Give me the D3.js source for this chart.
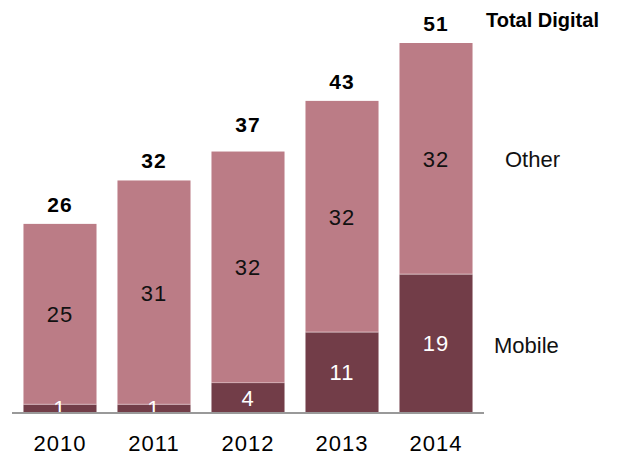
<!DOCTYPE html>
<html><head><meta charset="utf-8">
<script src="https://cdn.jsdelivr.net/npm/d3@7"></script>
<style>body{margin:0;background:#fff}svg{display:block}text{font-family:"Liberation Sans",Arial,sans-serif}</style>
</head><body>
<svg id="c" width="617" height="455"></svg>
<script>
const years = ["2010","2011","2012","2013","2014"];
const mobile = [1, 1, 4, 11, 19];
const other = [25, 31, 32, 32, 32];
const totals = [26, 32, 37, 43, 51];
const seriesNames = ["Other", "Mobile"];
const totalLabel = "Total Digital";

const svg = d3.select("#c");
const colOther = "#bb7c86", colMobile = "#723d48";
const x = d3.scaleBand().domain(years).range([12, 484]).paddingInner(0.223).paddingOuter(0.122);
const y = d3.scaleLinear().domain([0, 51]).range([412, 43]);

const data = years.map((yr, i) => ({yr, m: mobile[i], o: other[i], t: totals[i]}));

// other segments
svg.selectAll("rect.o").data(data).join("rect")
  .attr("x", d => x(d.yr)).attr("width", x.bandwidth())
  .attr("y", d => y(d.m + d.o)).attr("height", d => y(d.m) - y(d.m + d.o))
  .attr("fill", colOther);
// mobile segments
svg.selectAll("rect.m").data(data).join("rect")
  .attr("x", d => x(d.yr)).attr("width", x.bandwidth())
  .attr("y", d => y(d.m)).attr("height", d => y(0) - y(d.m))
  .attr("fill", colMobile);
// separator
svg.selectAll("line.sep").data(data).join("line")
  .attr("x1", d => x(d.yr)).attr("x2", d => x(d.yr) + x.bandwidth())
  .attr("y1", d => y(d.m) - 0.5).attr("y2", d => y(d.m) - 0.5)
  .attr("stroke", "rgba(255,255,255,0.35)").attr("stroke-width", 1);

// inner labels
svg.selectAll("text.o").data(data).join("text")
  .attr("x", d => x(d.yr) + x.bandwidth()/2)
  .attr("y", d => (y(d.m) + y(d.m + d.o))/2 + 8)
  .attr("text-anchor", "middle").attr("font-size", 22).attr("letter-spacing", 1)
  .attr("fill", "#111").text(d => d.o);
svg.selectAll("text.m").data(data).join("text")
  .attr("x", d => x(d.yr) + x.bandwidth()/2)
  .attr("y", d => (y(0) + y(d.m))/2 + 8)
  .attr("text-anchor", "middle").attr("font-size", 22).attr("letter-spacing", 1)
  .attr("fill", "#fff").text(d => d.m);

// totals
svg.selectAll("text.t").data(data).join("text")
  .attr("x", d => x(d.yr) + x.bandwidth()/2)
  .attr("y", d => y(d.t) - 12)
  .attr("text-anchor", "middle").attr("font-size", 21).attr("font-weight", "bold").attr("letter-spacing", 1)
  .attr("fill", "#000").text(d => d.t);

// axis
const axis = svg.append("g").attr("transform", "translate(0,413)")
  .call(d3.axisBottom(x).tickSize(0).tickPadding(30));
axis.select(".domain").attr("stroke", "#999").attr("stroke-width", 2).attr("d", "M12,0H484");
axis.selectAll(".tick text").attr("font-size", 22).attr("letter-spacing", 1)
  .attr("fill", "#000").attr("font-family", "Liberation Sans, Arial, sans-serif").attr("dy", null).attr("y", 38);

// series legends aligned to last bar
const last = data[data.length - 1];
svg.append("text").attr("x", 505).attr("y", (y(last.m) + y(last.m + last.o))/2 + 8)
  .attr("font-size", 22).attr("fill", "#111").text(seriesNames[0]);
svg.append("text").attr("x", 494).attr("y", (y(0) + y(last.m))/2 + 10)
  .attr("font-size", 22).attr("fill", "#111").text(seriesNames[1]);
svg.append("text").attr("x", 486).attr("y", 27)
  .attr("font-size", 20).attr("font-weight", "bold").attr("fill", "#000").text(totalLabel);
</script>
</body></html>
